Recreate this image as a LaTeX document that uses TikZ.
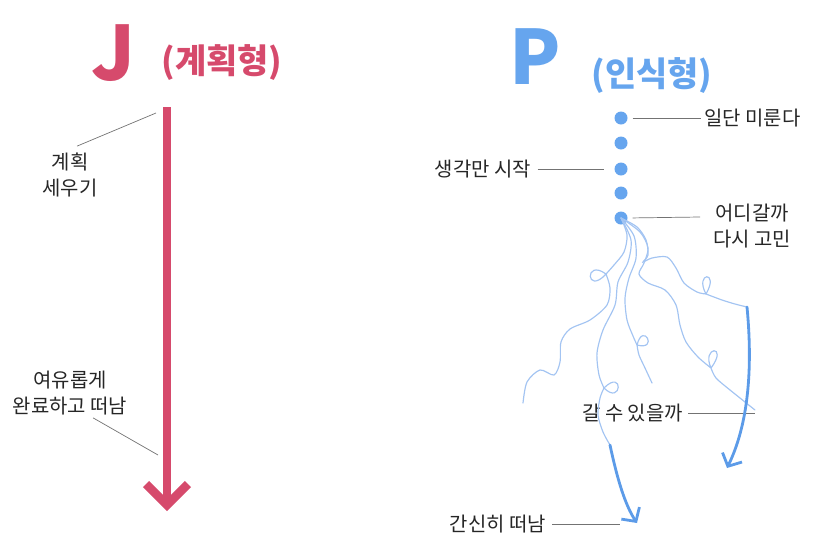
\documentclass[tikz,border=0pt]{standalone}
\usepackage{fontspec}
\usepackage{tikz}
\usetikzlibrary{arrows.meta}
\setmainfont{Noto Sans CJK KR}
\definecolor{jpink}{HTML}{D64A6C}
\definecolor{pblue}{HTML}{66A5EE}
\definecolor{pthin}{HTML}{A3C4F2}
\definecolor{parrow}{HTML}{5C9BE8}

\begin{document}
\begin{tikzpicture}[x=0.03cm,y=-0.03cm,
  lbl/.style={inner sep=0pt,font=\fontsize{17}{22}\selectfont,text=black!85,align=center},
  bigletter/.style={inner sep=0pt,font=\fontsize{64}{64}\selectfont\bfseries},
  title/.style={inner sep=0pt,font=\fontsize{29}{30}\selectfont\bfseries},
  leader/.style={draw=black!55,line width=0.6pt},
  pdot/.style={circle,fill=pblue,inner sep=0pt,minimum size=0.39cm},
  strand/.style={draw=pthin,line width=1pt,line cap=round},
  thickarrow/.style={draw=parrow,line width=2.4pt,line cap=round,-{Straight Barb[length=3mm,width=6.5mm]}},
  jline/.style={draw=jpink,line width=0.26cm}]
  \useasboundingbox (0,0) rectangle (819,552);

  \node[bigletter,text=jpink] (jletter) at (113,53) {J};
  \node[title,text=jpink] (jtitle) at (222,63) {(계획형)};
  \node[bigletter,text=pblue] (pletter) at (535,57) {P};
  \node[title,text=pblue] (ptitle) at (652,76) {(인식형)};

  \coordinate (jtop) at (167,107);
  \coordinate (jtip) at (167,505);
  \coordinate (jleft) at (146,484);
  \coordinate (jright) at (188,484);
  \draw[jline] (jtop) -- (jtip);
  \draw[jline,line join=miter] (jleft) -- (jtip) -- (jright);

  \node[lbl] (jplan) at (70,175) {계획\\세우기};
  \node[lbl] (jdone) at (70,393) {여유롭게\\완료하고 떠남};
  \coordinate (jplanend) at (156,113);
  \coordinate (jdoneend) at (158,455);
  \draw[leader] ([xshift=0.21cm,yshift=0.2cm]jplan.north) -- (jplanend);
  \draw[leader] ([xshift=0.69cm,yshift=-0.08cm]jdone.south) -- (jdoneend);

  \node[pdot] (d1) at (621,118) {};
  \node[pdot] (d2) at (621,143) {};
  \node[pdot] (d3) at (621,169) {};
  \node[pdot] (d4) at (621,193) {};
  \node[pdot] (d5) at (621,218) {};

  \node[lbl,anchor=west] (p1) at (704,118) {일단 미룬다};
  \node[lbl,anchor=east] (p3) at (531,169) {생각만 시작};
  \node[lbl] (p5) at (752,226) {어디갈까\\다시 고민};
  \node[lbl,anchor=east] (p6) at (683,413) {갈 수 있을까};
  \node[lbl,anchor=east] (p7) at (546,524) {간신히 떠남};
  \coordinate (p5end) at (700,217);
  \coordinate (p6end) at (755,413);
  \coordinate (p7end) at (620,524);
  \draw[leader,shorten <=0.15cm,shorten >=0.09cm] (d1.east) -- (p1.west);
  \draw[leader,shorten <=0.2cm,shorten >=0.3cm] (p3.east) -- (d3.west);
  \draw[leader,shorten <=0.15cm] (d5.east) -- (p5end);
  \draw[leader,shorten <=0.15cm] (p6.east) -- (p6end);
  \draw[leader,shorten <=0.18cm] (p7.east) -- (p7end);

  \draw[strand] plot[smooth] coordinates {(d5) (627,235) (624,252) (614,265) (606,274)}
    (606,274) .. controls +(-20,22) and +(-22,-16) .. (606,274)
    plot[smooth] coordinates {(606,274) (610,288) (607,305) (590,320) (570,329) (561,342) (560,362) (554,375) (540,370) (527,382) (523,403)};
  \draw[strand] plot[smooth] coordinates {(d5) (631,240) (628,262) (618,282) (615,305) (603,330) (597,353) (599,375) (604,388)}
    (604,388) .. controls +(18,18) and +(20,-20) .. (604,388)
    plot[smooth] coordinates {(604,388) (600,398) (598,415) (603,432) (610,445)};
  \draw[strand] plot[smooth] coordinates {(d5) (634,236) (636,258) (629,278) (625,298) (627,320) (633,336) (637,345)}
    (637,345) .. controls +(22,6) and +(6,-24) .. (637,345)
    plot[smooth] coordinates {(637,345) (639,355) (645,368) (652,383)};
  \draw[strand] plot[smooth] coordinates {(d5) (637,227) (646,240) (648,255) (643,262) (652,258) (667,257) (676,268) (684,283) (697,292) (706,294)}
    (706,294) .. controls +(14,-24) and +(-12,-22) .. (706,294)
    plot[smooth] coordinates {(706,294) (722,300) (735,304) (747,307)};
  \draw[strand] plot[smooth] coordinates {(d5) (640,232) (648,248) (644,263) (639,274) (648,283) (665,290) (676,305) (680,325) (686,342) (698,357) (711,368)}
    (711,368) .. controls +(18,-24) and +(-10,-22) .. (711,368)
    plot[smooth] coordinates {(711,368) (716,378) (730,390) (745,402) (755,410)};

  \coordinate (pastart) at (610,445);
  \coordinate (paend) at (637,523);
  \coordinate (pbstart) at (747,307);
  \coordinate (pbend) at (727,468);
  \draw[thickarrow] (pastart) .. controls (617,478) and (625,505) .. (paend);
  \draw[thickarrow] (pbstart) .. controls (753,370) and (748,425) .. (pbend);
\end{tikzpicture}
\end{document}
